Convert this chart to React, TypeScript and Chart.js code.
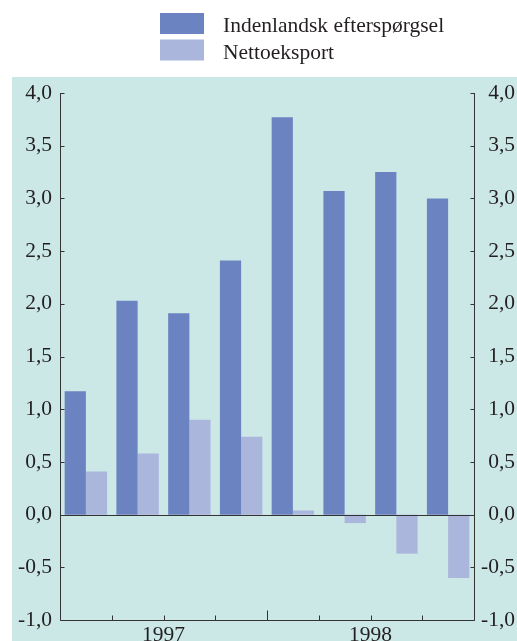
import React, { useEffect, useRef } from "react";
import { Chart, registerables } from "chart.js";

Chart.register(...registerables);

// Quarterly contributions, 1997–1998
const quarters = ["1997 K1", "1997 K2", "1997 K3", "1997 K4", "1998 K1", "1998 K2", "1998 K3", "1998 K4"];
const years = ["1997", "1998"];
const indenlandsk = [1.17, 2.03, 1.91, 2.41, 3.77, 3.07, 3.25, 3.0];
const nettoeksport = [0.41, 0.58, 0.9, 0.74, 0.04, -0.08, -0.37, -0.6];
const seriesNames = ["Indenlandsk efterspørgsel", "Nettoeksport"];

const W = 517;
const H = 641;
const FONT = "'Liberation Serif', 'Times New Roman', serif";
const FS = 21.5;
const INK = "#231f20";
const PANEL = "#cbe8e7";
const DARK = "#6b83c0";
const LIGHT = "#aab6db";

const fmt = (v: number) => v.toFixed(1).replace(".", ",");

const decor = {
  id: "decor",
  beforeDraw(chart: any) {
    const ctx = chart.ctx;
    ctx.save();
    ctx.fillStyle = "#ffffff";
    ctx.fillRect(0, 0, W, H);
    ctx.fillStyle = PANEL;
    ctx.fillRect(12, 77, W - 12, H - 77);

    // legend
    ctx.font = `${FS}px ${FONT}`;
    ctx.textBaseline = "alphabetic";
    ctx.textAlign = "left";
    chart.data.datasets.forEach((ds: any, i: number) => {
      const y = 13 + i * 26.5;
      ctx.fillStyle = ds.backgroundColor;
      ctx.fillRect(160, y, 44, 21);
      ctx.fillStyle = INK;
      ctx.fillText(ds.label, 223, y + 19);
    });
    ctx.restore();
  },
  afterDatasetsDraw(chart: any) {
    const ctx = chart.ctx;
    const { left, right, top, bottom } = chart.chartArea;
    const x = chart.scales.x;
    const y = chart.scales.y;
    ctx.save();
    ctx.strokeStyle = "#333333";
    ctx.lineWidth = 1;
    const line = (x1: number, y1: number, x2: number, y2: number) => {
      ctx.beginPath();
      ctx.moveTo(x1, y1);
      ctx.lineTo(x2, y2);
      ctx.stroke();
    };
    const L = Math.round(left) + 0.5;
    const R = Math.round(right) + 0.5;
    const B = Math.round(bottom) + 0.5;
    line(L, top, L, B);
    line(R, top, R, B);
    line(L, B, R, B);
    const z = Math.round(y.getPixelForValue(0)) + 0.5;
    line(L, z, R, z);

    // value ticks, pointing inward on both sides
    y.ticks.forEach((t: any) => {
      const py = Math.round(y.getPixelForValue(t.value)) + 0.5;
      line(L, py, L + 4, py);
      line(R - 4, py, R, py);
    });

    // quarter ticks along the bottom, taller at the year boundary
    const n = chart.data.labels.length;
    for (let i = 1; i < n; i++) {
      const px = Math.round((x.getPixelForValue(i - 1) + x.getPixelForValue(i)) / 2) + 0.5;
      const len = i % 4 === 0 ? 10 : 5;
      line(px, B, px, B - len);
    }

    // year labels centred under their four quarters
    ctx.fillStyle = INK;
    ctx.font = `${FS}px ${FONT}`;
    ctx.textAlign = "center";
    ctx.textBaseline = "alphabetic";
    years.forEach((yr, k) => {
      const cx = (x.getPixelForValue(k * 4 + 1) + x.getPixelForValue(k * 4 + 2)) / 2;
      ctx.fillText(yr, cx, bottom + 20.5);
    });
    ctx.restore();
  },
};

export default function App() {
  const ref = useRef<HTMLCanvasElement>(null);

  useEffect(() => {
    if (!ref.current) return;
    const tickFont = { family: FONT, size: FS };
    const chart = new Chart(ref.current, {
      type: "bar",
      data: {
        labels: quarters,
        datasets: [
          {
            label: seriesNames[0],
            data: indenlandsk,
            backgroundColor: DARK,
            borderWidth: 0,
            categoryPercentage: 0.82,
            barPercentage: 1.0,
          },
          {
            label: seriesNames[1],
            data: nettoeksport,
            backgroundColor: LIGHT,
            borderWidth: 0,
            categoryPercentage: 0.82,
            barPercentage: 1.0,
          },
        ],
      },
      options: {
        responsive: false,
        animation: false,
        devicePixelRatio: 1,
        layout: { padding: { top: 93, left: 0, right: 2, bottom: 0 } },
        plugins: {
          legend: { display: false },
          tooltip: { enabled: false },
        },
        scales: {
          x: {
            offset: true,
            grid: { display: false },
            border: { display: false },
            ticks: { display: false },
            afterFit: (s: any) => {
              s.height = 16;
            },
          },
          y: {
            position: "left",
            min: -1,
            max: 4,
            grid: { display: false, drawTicks: false },
            border: { display: false },
            ticks: {
              stepSize: 0.5,
              color: INK,
              font: tickFont,
              padding: 8,
              callback: (v: any) => fmt(Number(v)),
            },
            afterFit: (s: any) => {
              s.width = 60;
            },
          },
          y2: {
            position: "right",
            min: -1,
            max: 4,
            grid: { display: false, drawTicks: false },
            border: { display: false },
            ticks: {
              stepSize: 0.5,
              color: INK,
              font: tickFont,
              crossAlign: "far",
              callback: (v: any) => fmt(Number(v)),
            },
            afterFit: (s: any) => {
              s.width = 41;
            },
          },
        },
      },
      plugins: [decor],
    });
    return () => chart.destroy();
  }, []);

  return (
    <div style={{ position: "fixed", left: 0, top: 0, width: W, height: H, background: "#fff" }}>
      <canvas ref={ref} width={W} height={H} style={{ display: "block", width: W, height: H }} />
    </div>
  );
}
